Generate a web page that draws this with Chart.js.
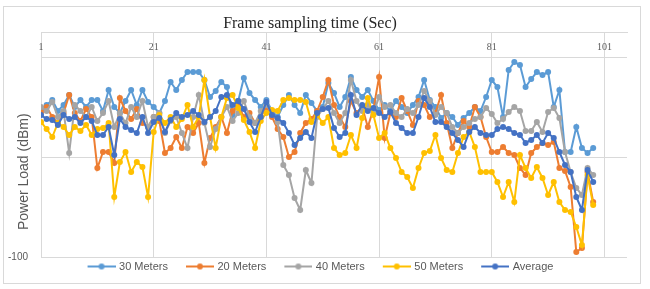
<!DOCTYPE html>
<html lang="en">
<head>
<meta charset="utf-8">
<title>Power Load</title>
<script src="https://cdn.jsdelivr.net/npm/chart.js@4.4.1/dist/chart.umd.min.js"></script>
<style>
  html, body { margin: 0; padding: 0; background: #fff; }
  #marco { position: relative; width: 650px; height: 289px; }
  #marco canvas { position: absolute; left: 0; top: 0; }
  #borde { position: absolute; left: 3px; top: 6px; width: 636px; height: 276px; border: 1px solid #d9d9d9; pointer-events: none; }
</style>
</head>
<body>
<div id="marco">
  <canvas id="graficoPotencia" width="650" height="289"></canvas>
  <div id="borde"></div>
</div>
<script>
// Frame index (x) and axis ticks
const tramas = Array.from({ length: 99 }, (_, i) => i + 1);
const xTicks = [1, 21, 41, 61, 81, 101];
const yTicks = [-100, -50, 0];
const yTickLabels = ['-100', '', ''];

const nombres = ['30 Meters', '20 Meters', '40 Meters', '50 Meters', 'Average'];
const colores = ['#5B9BD5', '#ED7D31', '#A5A5A5', '#FFC000', '#4472C4'];

// Power load (dBm) per frame
const potencia30 = [
  -26, -24, -21.5, -27, -24, -19, -25, -21.5, -25, -21.5,
  -21.5, -27, -16.5, -25, -28, -22, -16.5, -24, -16.5, -22.5,
  -25, -28, -22, -12.5, -16.5, -11.5, -7.5, -7.5, -7.5, -11.5,
  -20, -17, -12.5, -15, -29, -22, -10.5, -18, -21.5, -25,
  -21.5, -27, -30, -24, -19, -24, -28, -19, -23, -27,
  -25, -13, -18, -25, -20, -10, -16.5, -20, -16.5, -22,
  -26.5, -24, -27, -22, -25, -28, -24, -20, -11.5, -21.5,
  -25, -30.5, -28, -30, -34, -30.5, -28, -25, -27, -20,
  -11.5, -15, -30, -6.5, -2.5, -4, -15, -11, -7.5, -9,
  -7.5, -25, -16.5, -47.5, -47.5, -35, -45.5, -48, -45.5
];
const potencia20 = [
  -27.5, -25, -30, -33, -28, -19, -28, -32, -26, -30,
  -55.5, -47.5, -47.5, -53, -20.5, -27, -31, -26, -33, -35,
  -30, -32, -48, -45.5, -40, -45.5, -35, -38, -33, -53,
  -40.5, -35, -30, -38, -27, -24, -30, -28, -33, -30,
  -25, -30, -36, -40, -50, -47.5, -38, -33, -31, -27,
  -20, -11.5, -24, -30, -35, -22, -28, -25, -35, -26,
  -10, -40.5, -28, -30, -20.5, -27, -34, -22, -24, -30,
  -28, -19, -33, -45.5, -38, -32, -35, -25, -30, -40,
  -47.5, -47.5, -45, -48, -49, -55.5, -59, -48, -45, -43,
  -44, -42.5, -55.5, -57, -65, -97.5, -95.5, -57.5, -72.5
];
const potencia40 = [
  -25, -27, -22.5, -30, -27, -48, -24, -27, -30, -25,
  -32, -28, -22, -35, -28, -33, -25, -30, -22, -35,
  -30, -28, -38, -32, -30, -38, -45.5, -30, -19, -33,
  -45, -36, -30, -25, -32, -28, -22, -30, -33, -27,
  -24, -28, -32.5, -54, -59, -70.5, -76.5, -56.5, -63, -30,
  -26, -22, -28, -33, -28, -11.5, -22, -27, -24, -28,
  -20, -25, -24, -28, -30, -26, -28, -24, -17, -22,
  -29, -25, -28, -35, -38, -35, -33, -31, -30, -25.5,
  -28.5, -33, -31, -27.5, -25, -27, -37, -37, -32.5, -37.5,
  -27.5, -25.5, -30.5, -47.5, -57.5, -65.5, -69, -55.5, -59
];
const potencia50 = [
  -32.5, -36, -40, -33, -35, -39, -35, -37, -34, -39,
  -36, -35.5, -33, -70, -52.5, -47.5, -57.5, -52.5, -55, -70,
  -37.5, -29, -33, -30, -35, -31, -24, -35, -30, -11.5,
  -30, -45.5, -30, -20.5, -19, -25.5, -31.5, -37.5, -45.5, -32,
  -28, -26.5, -27, -21.5, -20.5, -21.5, -21.5, -22.5, -32.5, -29,
  -33, -30, -45.5, -49, -48, -39, -45.5, -30.5, -20.5, -29,
  -40.5, -38, -45.5, -50.5, -57.5, -60, -65.5, -55.5, -48, -47,
  -39, -50.5, -56.5, -57.5, -48, -40, -37.5, -45, -57.5, -57.5,
  -57.5, -62.5, -70, -62.5, -72.5, -49, -55.5, -60.5, -55, -60.5,
  -69, -62.5, -72.5, -76.5, -77.5, -85, -94, -59, -74
];
const promedio = [
  -29, -31, -31.5, -34, -29, -31, -30, -33, -30, -32,
  -39, -39, -35, -49, -31, -35, -36.5, -38, -30, -38,
  -32.5, -30.5, -37.5, -31.5, -28, -30, -29, -27, -29, -32.5,
  -30, -27, -20, -19, -24, -22, -26, -32.5, -37.5, -30,
  -22.5, -29, -30.5, -33, -38, -44, -40.5, -37.5, -40.5, -28,
  -26, -25.5, -35.5, -40, -38, -19, -29, -24, -27, -25.5,
  -28, -30, -27.5, -33, -35.5, -38, -38, -30, -20.5, -25,
  -32.5, -32.5, -35, -38, -41.5, -45, -37.5, -35, -38, -39,
  -39, -36, -35, -36, -38, -39, -43, -41.5, -39, -43,
  -38, -40.5, -47.5, -54, -57.5, -70, -76.5, -56.5, -62.5
];

const series = [potencia30, potencia20, potencia40, potencia50, promedio];

// Legend marker: short line with a dot, like the spreadsheet legend
function marcadorLeyenda(color) {
  const c = document.createElement('canvas');
  c.width = 44;
  c.height = 12;
  const g = c.getContext('2d');
  g.strokeStyle = color;
  g.lineWidth = 2;
  g.beginPath();
  g.moveTo(16, 6);
  g.lineTo(44, 6);
  g.stroke();
  g.fillStyle = color;
  g.beginPath();
  g.arc(30, 6, 3, 0, Math.PI * 2);
  g.fill();
  return c;
}
const marcadores = colores.map(marcadorLeyenda);

const ctx = document.getElementById('graficoPotencia').getContext('2d');
new Chart(ctx, {
  type: 'line',
  data: {
    datasets: series.map((valores, i) => ({
      label: nombres[i],
      data: valores.map((v, j) => ({ x: tramas[j], y: v })),
      borderColor: colores[i],
      backgroundColor: colores[i],
      pointBackgroundColor: colores[i],
      pointBorderColor: colores[i],
      borderWidth: 2,
      pointRadius: 3,
      pointBorderWidth: 0,
      tension: 0,
      fill: false,
      order: series.length - 1 - i // Average on top
    }))
  },
  options: {
    responsive: false,
    animation: false,
    layout: { padding: { left: 0, top: 0, right: 23, bottom: 7 } },
    scales: {
      x: {
        type: 'linear',
        position: 'top',
        min: 1,
        max: 105,
        afterBuildTicks: (s) => { s.ticks = xTicks.map(v => ({ value: v })); },
        afterFit: (s) => { s.height = 32; },
        grid: { color: '#d9d9d9', drawTicks: false },
        border: { display: true, color: '#d9d9d9' },
        ticks: {
          mirror: true,
          padding: 9,
          autoSkip: false,
          maxRotation: 0,
          color: '#595959',
          font: { family: 'Liberation Serif', size: 10 }
        },
        title: {
          display: true,
          text: 'Frame sampling time (Sec)' + ' '.repeat(12),
          color: '#262626',
          font: { family: 'Liberation Serif', size: 16 },
          padding: { top: 14, bottom: 0 }
        }
      },
      y: {
        min: -100,
        max: 12.5,
        afterBuildTicks: (s) => { s.ticks = yTicks.map(v => ({ value: v })); },
        afterFit: (s) => { s.width = 41; },
        grid: { color: '#d9d9d9', drawTicks: false },
        border: { display: false },
        ticks: {
          padding: 13,
          color: '#595959',
          font: { family: 'Liberation Sans', size: 10 },
          callback: (v) => yTickLabels[yTicks.indexOf(v)]
        },
        title: {
          display: true,
          text: 'Power Load (dBm)' + ' '.repeat(14),
          color: '#595959',
          font: { family: 'Liberation Sans', size: 14 },
          padding: { top: 15.6, bottom: 0 }
        }
      }
    },
    plugins: {
      tooltip: { enabled: false },
      legend: {
        position: 'bottom',
        labels: {
          usePointStyle: true,
          pointStyleWidth: 40,
          padding: 4,
          color: '#595959',
          font: { family: 'Liberation Sans', size: 11 },
          sort: (a, b) => a.datasetIndex - b.datasetIndex,
          generateLabels: (chart) => {
            const items = Chart.defaults.plugins.legend.labels.generateLabels(chart);
            items.forEach(it => { it.pointStyle = marcadores[it.datasetIndex]; });
            return items;
          }
        }
      }
    }
  }
});
</script>
</body>
</html>
